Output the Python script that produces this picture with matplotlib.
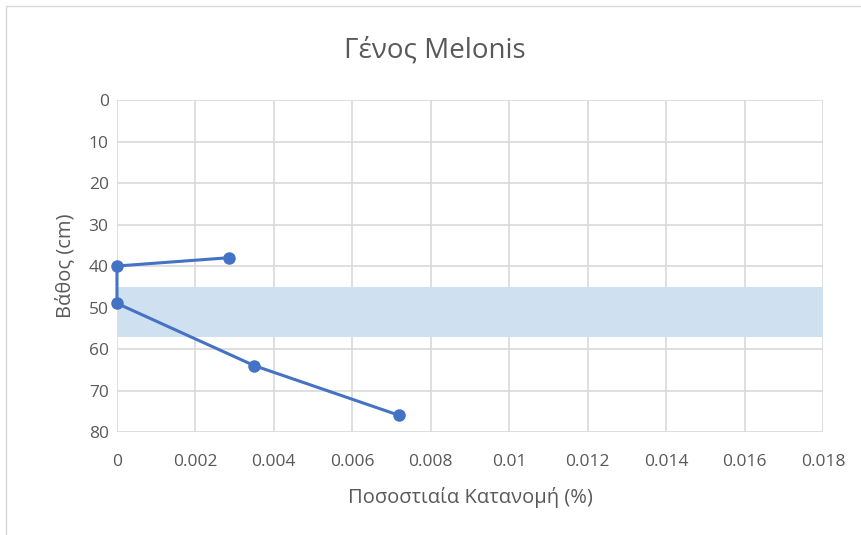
import matplotlib.pyplot as plt
from matplotlib.patches import Rectangle

plt.rcParams['font.family'] = ['Open Sans', 'DejaVu Sans']

# percentage distribution vs depth
pososto = [0.00285, 0.0, 0.0, 0.0035, 0.0072]
vathos = [38, 40, 49, 64, 76]

# shaded depth interval
zoni = (45, 57)

x_ticks = [0, 0.002, 0.004, 0.006, 0.008, 0.01, 0.012, 0.014, 0.016, 0.018]
x_labels = ['0', '0.002', '0.004', '0.006', '0.008', '0.01', '0.012', '0.014', '0.016', '0.018']
y_ticks = [0, 10, 20, 30, 40, 50, 60, 70, 80]

blue = '#4472C4'
grey_txt = '#595959'
grid_c = '#d9d9d9'

fig = plt.figure(figsize=(8.62, 5.35), dpi=100)
ax = fig.add_axes([0.1357, 0.1925, 0.819, 0.6205])

# outer chart frame
fig.add_artist(Rectangle((0.007, -0.01), 1.0, 0.998, transform=fig.transFigure,
                         fill=False, edgecolor='#d9d9d9', lw=1.0))

ax.axhspan(zoni[0], zoni[1], color='#cfe0f1', zorder=1, lw=0)
ax.plot(pososto, vathos, color=blue, lw=2.2, marker='o', markersize=8,
        zorder=3, clip_on=False)

ax.set_xlim(0, 0.018)
ax.set_ylim(80, 0)
ax.set_xticks(x_ticks)
ax.set_xticklabels(x_labels)
ax.set_yticks(y_ticks)
ax.grid(True, color=grid_c, lw=1.2, zorder=0)
ax.set_axisbelow(True)
for s in ax.spines.values():
    s.set_visible(False)
ax.tick_params(length=0, colors=grey_txt, labelsize=12.5)
ax.tick_params(axis='x', pad=16)
ax.tick_params(axis='y', pad=6)

# chart title centred on the whole chart area
fig.text(0.505, 0.905, 'Γένος Melonis', fontsize=20, color=grey_txt,
         ha='center', va='center')
ax.set_xlabel('Ποσοστιαία Κατανομή (%)', fontsize=14.5, color=grey_txt, labelpad=12)
ax.set_ylabel('Βάθος (cm)', fontsize=14.5, color=grey_txt, labelpad=10)

fig.savefig('out.png', dpi=100)
